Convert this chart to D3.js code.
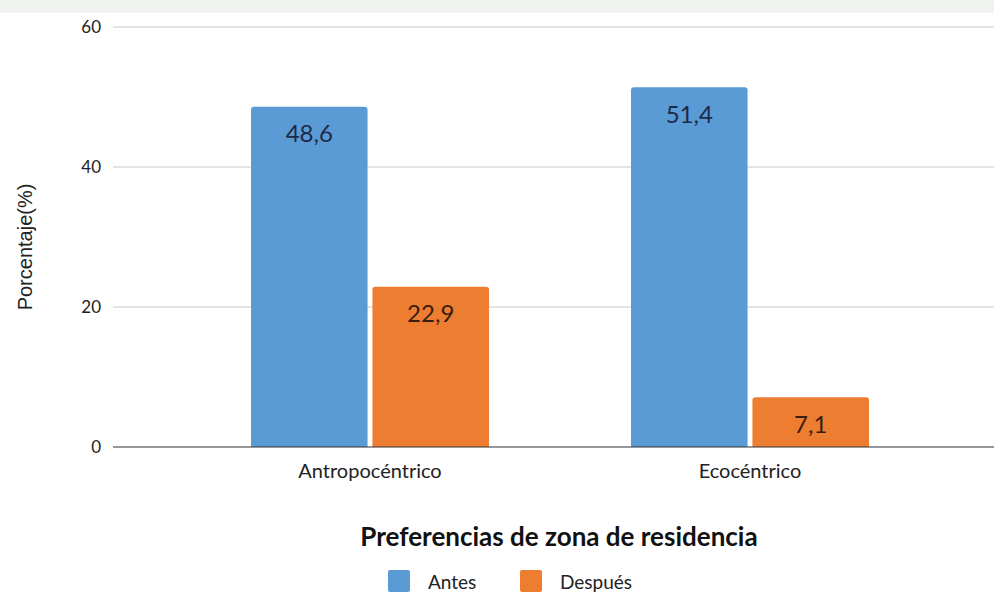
<!DOCTYPE html>
<html>
<head>
<meta charset="utf-8">
<script src="https://cdn.jsdelivr.net/npm/d3@7"></script>
<style>
  body { margin: 0; background: #fff; }
  text { font-family: Lato, "Open Sans", sans-serif; }
</style>
</head>
<body>
<div id="chart"></div>
<script>
const categories = ["Antropocéntrico", "Ecocéntrico"]
const series = ["Antes", "Después"]
const antes = [48.6, 51.4]
const despues = [22.9, 7.1]
const yTicks = [0, 20, 40, 60]

const width = 994
const height = 596
const colors = { "Antes": "#5b9bd5", "Después": "#ed7d31" }
const labelColors = { "Antes": "#1c2a48", "Después": "#3a1c10" }

let svg = d3.select("#chart").append("svg")
    .attr("width", width)
    .attr("height", height)

// faint watermark band at top, as in the scanned source
svg.append("rect").attr("x", 0).attr("y", 0).attr("width", width).attr("height", 13)
    .attr("fill", "#f0f2f0")

let x = d3.scaleBand().domain(categories).range([180, 940])
let xs = d3.scaleBand().domain(series).range([0, 238]).paddingInner(0.04)
let y = d3.scaleLinear().domain([0, 60]).range([447, 27])

// gridlines
svg.append("g").selectAll("line")
    .data(yTicks.filter(d => d > 0))
    .join("line")
    .attr("x1", 113).attr("x2", width)
    .attr("y1", d => y(d)).attr("y2", d => y(d))
    .attr("stroke", "#c8c8c8").attr("stroke-width", 1)

// tick labels
svg.append("g").selectAll("text")
    .data(yTicks)
    .join("text")
    .attr("x", 101).attr("y", d => y(d))
    .attr("dy", "0.35em")
    .attr("text-anchor", "end")
    .attr("font-size", 17)
    .attr("fill", "#222")
    .text(d => d)

let rows = categories.map((c, i) => ({ cat: c, vals: [
  { s: "Antes", v: antes[i] },
  { s: "Después", v: despues[i] }
]}))

let groups = svg.append("g").selectAll("g")
    .data(rows)
    .join("g")
    .attr("transform", d => `translate(${x(d.cat) + x.bandwidth() / 2 - 119},0)`)

groups.selectAll("path")
    .data(d => d.vals)
    .join("path")
    .attr("fill", d => colors[d.s])
    .attr("d", d => {
      let x0 = xs(d.s), w = xs.bandwidth(), y0 = y(d.v), yb = y(0), r = 3
      return `M${x0},${yb}V${y0 + r}Q${x0},${y0} ${x0 + r},${y0}H${x0 + w - r}Q${x0 + w},${y0} ${x0 + w},${y0 + r}V${yb}Z`
    })

groups.selectAll("text.val")
    .data(d => d.vals)
    .join("text")
    .attr("class", "val")
    .attr("x", d => xs(d.s) + xs.bandwidth() / 2)
    .attr("y", d => y(d.v) + 27)
    .attr("dy", "0.35em")
    .attr("text-anchor", "middle")
    .attr("font-size", 24)
    .attr("fill", d => labelColors[d.s])
    .text(d => d.v.toFixed(1).replace(".", ","))

// zero line
svg.append("line")
    .attr("x1", 113).attr("x2", width)
    .attr("y1", y(0)).attr("y2", y(0))
    .attr("stroke", "#333").attr("stroke-width", 1.2)

// category labels
svg.append("g").selectAll("text")
    .data(categories)
    .join("text")
    .attr("x", d => x(d) + x.bandwidth() / 2)
    .attr("y", 471)
    .attr("dy", "0.35em")
    .attr("text-anchor", "middle")
    .attr("font-size", 20)
    .attr("fill", "#222")
    .text(d => d)

// y axis title
svg.append("text")
    .attr("transform", "translate(25,247) rotate(-90)")
    .attr("dy", "0.35em")
    .attr("text-anchor", "middle")
    .attr("font-size", 20)
    .style("font-family", "'Liberation Sans', Arial, sans-serif")
    .attr("fill", "#222")
    .text("Porcentaje(%)")

// x axis title
svg.append("text")
    .attr("x", 559).attr("y", 537)
    .attr("dy", "0.35em")
    .attr("text-anchor", "middle")
    .attr("font-size", 26)
    .attr("font-weight", "bold")
    .attr("fill", "#111")
    .text("Preferencias de zona de residencia")

// legend
let legend = svg.append("g").selectAll("g")
    .data(series)
    .join("g")
    .attr("transform", (d, i) => `translate(${388 + i * 132},570)`)

legend.append("rect")
    .attr("width", 22).attr("height", 22).attr("rx", 2)
    .attr("fill", d => colors[d])

legend.append("text")
    .attr("x", 40).attr("y", 12)
    .attr("dy", "0.35em")
    .attr("font-size", 19)
    .attr("fill", "#222")
    .text(d => d)
</script>
</body>
</html>
